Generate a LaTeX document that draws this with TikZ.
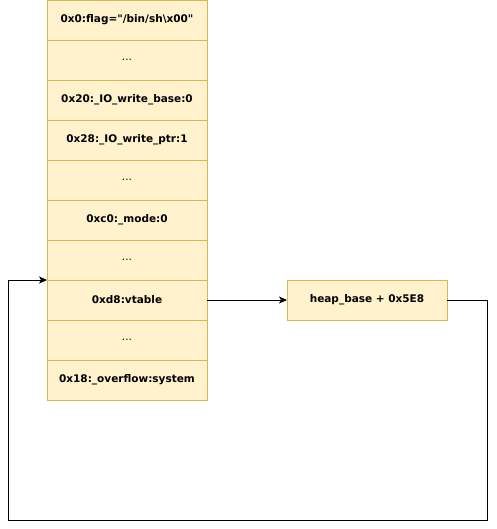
\documentclass[tikz,border=0pt]{standalone}
\usepackage{fontspec}
\setmainfont{DejaVu Sans}
\usetikzlibrary{positioning, arrows.meta}
\definecolor{cellfill}{HTML}{FFF2CC}
\definecolor{celldraw}{HTML}{D6B656}

\begin{document}
\begin{tikzpicture}[
		x=1pt, y=-1pt,
		node distance=0pt,
		cell/.style={
			draw=celldraw,
			fill=cellfill,
			line width=0.8pt,
			minimum width=160pt,
			minimum height=40pt,
			inner sep=0pt,
			outer sep=0pt,
			align=center,
			font=\fontsize{10.5}{12}\selectfont\bfseries
		},
		gap/.style={cell, font=\fontsize{10.5}{12}\selectfont},
		arrow/.style={-{Stealth[length=8pt, width=7pt, inset=2pt]}, line width=0.9pt}
		]
		
		\useasboundingbox (0,0) rectangle (496,529);
		
		\node[cell] (r0) at (127,20) {0x0:flag=\textquotedbl/bin/sh\textbackslash x00\textquotedbl};
		\node[gap, below=of r0] (r1) {...};
		\node[cell, below=of r1] (r2) {0x20:\_IO\_write\_base:0};
		\node[cell, below=of r2] (r3) {0x28:\_IO\_write\_ptr:1};
		\node[gap, below=of r3] (r4) {...};
		\node[cell, below=of r4] (r5) {0xc0:\_mode:0};
		\node[gap, below=of r5] (r6) {...};
		\node[cell, below=of r6] (vtable) {0xd8:vtable};
		\node[gap, below=of vtable] (r8) {...};
		\node[cell, below=of r8] (r9) {0x18:\_overflow:system};
		
		\node[cell, right=80pt of vtable] (heap) {heap\_base + 0x5E8};
		
		\coordinate (br) at (487,520);
		\coordinate (bl) at (8,520);
		
		\draw[arrow] (vtable) -- (heap);
		\draw[arrow] (heap.east) -| (br) -- (bl) |- (vtable.north west);
		
	\end{tikzpicture}
\end{document}
